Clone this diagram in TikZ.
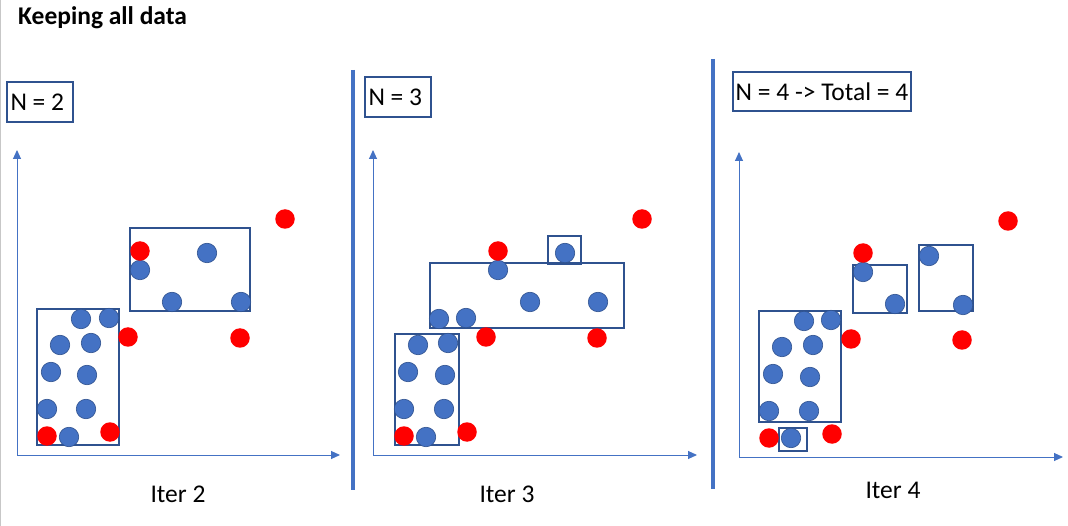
\documentclass[tikz,border=0pt]{standalone}
\usepackage{fontspec}
\setmainfont{Carlito}
\usetikzlibrary{arrows.meta}
\definecolor{dotblue}{RGB}{68,114,196}
\definecolor{dotedge}{RGB}{47,82,143}
\definecolor{boxblue}{RGB}{47,82,143}
\definecolor{dotred}{RGB}{255,0,0}
\tikzset{
  bdot/.style={circle,fill=dotblue,draw=dotedge,line width=0.6pt,minimum size=19.5pt,inner sep=0pt},
  rdot/.style={circle,fill=dotred,minimum size=19.5pt,inner sep=0pt},
  grp/.style={draw=boxblue,line width=1.1pt},
  nbox/.style={draw=boxblue,line width=1.1pt,inner xsep=3.5pt,inner ysep=0pt,font=\fontsize{25.5}{28}\selectfont},
  lbl/.style={font=\fontsize{25.5}{28}\selectfont,inner sep=0pt},
  axis/.style={draw=dotblue,line width=1pt,-{Triangle[width=8pt,length=9pt]}},
  sep/.style={draw=dotblue,line width=3.2pt},
}
\begin{document}
\begin{tikzpicture}[x=1pt,y=-1pt]
\useasboundingbox (0,0) rectangle (1068,526);
\fill[white] (0,0) rectangle (1068,526);
\draw[black!22,line width=1.2pt] (0.6,0) -- (0.6,526);

\node[font=\fontsize{25.5}{28}\selectfont\bfseries,anchor=west,inner sep=0pt] (title) at (18,18) {Keeping all data};

% ---------------- Panel 1 ----------------
\node[nbox,minimum height=40pt] (n2) at (40,102) {\makebox[59pt][l]{N = 2}};
\coordinate (o1) at (17,455);
\coordinate (y1) at (17,150);
\coordinate (x1) at (340,455);
\draw[axis] (o1) -- (y1);
\draw[axis] (o1) -- (x1);
\draw[grp] (37,309) rectangle (119,445);
\draw[grp] (130,228) rectangle (250,311);
\foreach \n/\x/\y in {a1/81/319,a2/109/318,a3/60/345,a4/91/343,a5/51/372,a6/87/375,a7/47/409,a8/86/409,a9/69/437,a10/140/270,a11/207/253,a12/172/302,a13/241/302}
  \node[bdot] (\n) at (\x,\y) {};
\foreach \n/\x/\y in {ar1/47/436,ar2/110/432,ar3/128/337,ar4/240/338,ar5/140/251,ar6/285/219}
  \node[rdot] (\n) at (\x,\y) {};
\node[lbl] (it2) at (178,494) {Iter 2};

\coordinate (s1t) at (353,70);
\coordinate (s1b) at (353,490);
\draw[sep] (s1t) -- (s1b);

% ---------------- Panel 2 ----------------
\node[nbox,minimum height=40pt] (n3) at (398,97) {\makebox[59pt][l]{N = 3}};
\coordinate (o2) at (373,455);
\coordinate (y2) at (373,150);
\coordinate (x2) at (697,455);
\draw[axis] (o2) -- (y2);
\draw[axis] (o2) -- (x2);
\draw[grp] (395,334) rectangle (459,445);
\draw[grp] (430,263) rectangle (624,328);
\draw[grp] (548,236) rectangle (581,264);
\foreach \n/\x/\y in {b1/418/345,b2/448/343,b3/408/372,b4/445/375,b5/404/409,b6/444/409,b7/426/437,b8/439/319,b9/466/318,b10/530/302,b11/598/302,b12/498/270,b13/565/253}
  \node[bdot] (\n) at (\x,\y) {};
\foreach \n/\x/\y in {br1/404/436,br2/467/432,br3/486/337,br4/597/338,br5/498/251,br6/642/219}
  \node[rdot] (\n) at (\x,\y) {};
\node[lbl] (it3) at (507,494) {Iter 3};

\coordinate (s2t) at (713,59);
\coordinate (s2b) at (713,489);
\draw[sep] (s2t) -- (s2b);

% ---------------- Panel 3 ----------------
\node[nbox,minimum height=39pt] (n4) at (822,91.5) {\makebox[171pt][c]{N = 4 -> Total = 4}};
\coordinate (o3) at (739,457);
\coordinate (y3) at (739,152);
\coordinate (x3) at (1063,457);
\draw[axis] (o3) -- (y3);
\draw[axis] (o3) -- (x3);
\draw[grp] (759,311) rectangle (841,422);
\draw[grp] (853,265) rectangle (907,313);
\draw[grp] (919,245) rectangle (973,311);
\draw[grp] (779,428) rectangle (807,451);
\foreach \n/\x/\y in {c1/804/321,c2/831/320,c3/782/347,c4/813/345,c5/773/374,c6/810/377,c7/769/411,c8/809/411,c9/791/438,c10/863/272,c11/895/304,c12/929/256,c13/963/305}
  \node[bdot] (\n) at (\x,\y) {};
\foreach \n/\x/\y in {cr1/769/438,cr2/832/434,cr3/851/339,cr4/962/340,cr5/863/253,cr6/1008/221}
  \node[rdot] (\n) at (\x,\y) {};
\node[lbl] (it4) at (893,490) {Iter 4};
\end{tikzpicture}
\end{document}
